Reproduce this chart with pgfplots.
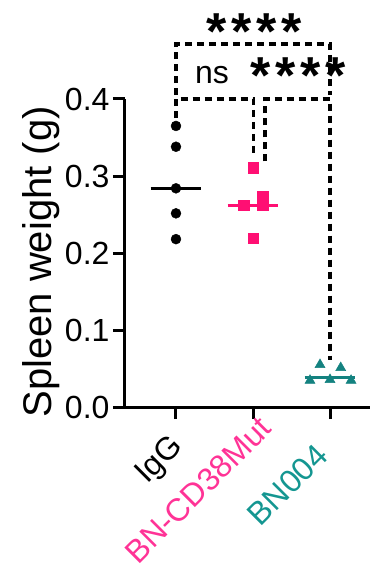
\documentclass[border=0pt]{standalone}
\usepackage{pgfplots}
\pgfplotsset{compat=1.18}
\usepackage{fontspec}
\setmainfont{Liberation Sans}
\definecolor{pinkm}{RGB}{255,15,115}
\definecolor{pinkt}{RGB}{255,51,150}
\definecolor{tealm}{RGB}{20,130,128}
\definecolor{tealt}{RGB}{20,150,145}
\newcommand\stars{\makebox[25pt]{*}\makebox[25pt]{*}\makebox[25pt]{*}\makebox[25pt]{*}}
\begin{document}
\begin{tikzpicture}
\begin{axis}[
  at={(0pt,0pt)}, anchor=south west,
  scale only axis, width=245pt, height=308pt,
  xmin=-0.662, xmax=2.519, ymin=0, ymax=0.4,
  axis x line=bottom, axis y line=left,
  axis line style={line width=3pt, -},
  xtick={0,1,2}, xticklabels={},
  ytick={0,0.1,0.2,0.3,0.4},
  yticklabels={0.0,0.1,0.2,0.3,0.4},
  tick align=outside, major tick length=12pt,
  tick style={line width=3pt, black},
  yticklabel style={font=\fontsize{32}{32}\selectfont},
  ylabel={Spleen weight (g)},
  ylabel style={font=\fontsize{40}{40}\selectfont, at={(axis description cs:-0.343,0.471)}, anchor=center},
  clip=false,
]
% median lines
\addplot[black, line width=3pt] coordinates {(-0.33,0.284) (0.33,0.284)};
\addplot[pinkm, line width=3pt] coordinates {(0.67,0.262) (1.33,0.262)};
\addplot[tealm, line width=3pt] coordinates {(1.67,0.0377) (2.33,0.0377)};
% points
\addplot[only marks, mark=*, mark size=5pt, black] coordinates {(0,0.365) (0,0.338) (0,0.284) (0,0.2515) (0,0.218)};
\addplot[only marks, mark=square*, mark size=5.3pt, pinkm] coordinates {(1,0.311) (1.126,0.274) (0.879,0.262) (1.126,0.262) (1,0.219)};
\addplot[only marks, mark=triangle*, mark size=5.8pt, tealm] coordinates {(1.870,0.055) (2.139,0.051) (1.740,0.0345) (2.0,0.0355) (2.273,0.0345)};
% significance brackets
\addplot[black, line width=3.3pt, dash pattern=on 7pt off 5pt] coordinates {(0,0.405) (0,0.4714) (2,0.4714) (2,0.405)};
\addplot[black, line width=3.3pt, dash pattern=on 7pt off 5pt] coordinates {(0,0.375) (0,0.4) (1.01,0.4) (1.01,0.33)};
\addplot[black, line width=3.3pt, dash pattern=on 7pt off 5pt] coordinates {(1.156,0.319) (1.156,0.4) (2,0.4) (2,0.061)};
\node[font=\fontsize{52}{52}\bfseries\selectfont, anchor=base, inner sep=0pt] at (axis cs:1.013,0.4646) {\stars};
\node[font=\fontsize{32}{32}\selectfont, anchor=base, inner sep=0pt] at (axis cs:0.468,0.4204) {ns};
\node[font=\fontsize{52}{52}\bfseries\selectfont, anchor=base, inner sep=0pt] at (axis cs:1.59,0.4066) {\stars};
% category labels
\node[rotate=45, anchor=center, inner sep=0pt, font=\fontsize{32}{32}\selectfont] at (axis cs:-0.206,-0.0701) {IgG};
\node[rotate=45, anchor=center, inner sep=0pt, font=\fontsize{32}{32}\selectfont, text=pinkt] at (axis cs:0.286,-0.1078) {BN-CD38Mut};
\node[rotate=45, anchor=center, inner sep=0pt, font=\fontsize{32}{32}\selectfont, text=tealt] at (axis cs:1.448,-0.1013) {BN004};
\end{axis}
\pgfresetboundingbox
\path[use as bounding box] (-125pt,-162pt) rectangle (248pt,407pt);
\end{tikzpicture}
\end{document}
